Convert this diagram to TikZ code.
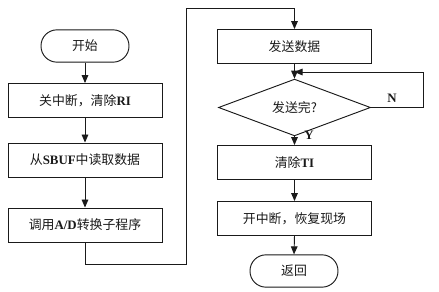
\documentclass[tikz,border=0pt]{standalone}
\usepackage{fontspec}
\setmainfont{Liberation Serif}
\newfontfamily\cjk{Noto Sans CJK SC}
\usetikzlibrary{arrows.meta,shapes.geometric}
\definecolor{paper}{HTML}{FFFFFF}
\definecolor{ink}{HTML}{1A1A1A}
\newcommand{\Lat}[1]{\textrm{\bfseries #1}}
\newcommand{\LeftX}{85}
\newcommand{\RightX}{294.5}
\newcommand{\BoxW}{4.62}
\newcommand{\BoxH}{1.02}

\begin{document}
\begin{tikzpicture}[
    x=0.03cm, y=-0.03cm,
    font=\cjk\fontsize{11}{13}\selectfont, ink,
    edge/.style={-{Triangle[length=2.4mm, width=2mm]}, line width=0.8pt, draw=ink},
    stepbox/.style={draw=ink, line width=0.8pt, fill=paper, minimum width=\BoxW cm, minimum height=\BoxH cm, inner sep=2pt},
    term/.style={draw=ink, line width=0.8pt, fill=paper, rounded corners=0.48cm, minimum width=2.64cm, minimum height=0.97cm, inner sep=2pt},
    test/.style={draw=ink, line width=0.8pt, fill=paper, diamond, minimum width=4.56cm, minimum height=0.93cm, inner sep=0pt},
    tag/.style={font=\rmfamily\bfseries\fontsize{11}{13}\selectfont},
  ]

\useasboundingbox[fill=paper] (0,0) rectangle (439,292);

% --- The receiving side ---------------------------------------------------------
\node[term] (start) at (\LeftX, 46) {开始};
\node[stepbox] (close) at (\LeftX, 100.5) {关中断，清除\Lat{RI}};
\node[stepbox] (read) at (\LeftX, 160) {从\Lat{SBUF}中读取数据};
\node[stepbox] (conv) at (\LeftX, 225) {调用\Lat{A/D}转换子程序};

\draw[edge] (start.south) -- (close.north);
\draw[edge] (close.south) -- (read.north);
\draw[edge] (read.south) -- (conv.north);

% --- Over to the sending side -----------------------------------------------------
\coordinate (low) at (186, 264);
\coordinate (high) at (186, 8);
\node[stepbox] (send) at (\RightX, 46.5) {发送数据};
\draw[edge] (conv.south) -- (conv.south |- low) -| (high) -| (send.north);

% --- Wait until sent ----------------------------------------------------------------
\node[test] (done) at (\RightX, 107.5) {发送完?};
\coordinate (back) at (423, 72);
\draw[edge] (send.south) -- (done.north);
\draw[edge] (done.east) -| (back) -- (back -| send.south);
\node[tag] (no) at (392, 98) {N};

% --- Finish -------------------------------------------------------------------------
\node[stepbox] (clear) at (\RightX, 162.5) {清除\Lat{TI}};
\node[stepbox] (open) at (\RightX, 218.5) {开中断，恢复现场};
\node[term] (ret) at (294, 271) {返回};
\node[tag] (yes) at (309, 135) {Y};

\draw[edge] (done.south) -- (clear.north);
\draw[edge] (clear.south) -- (open.north);
\draw[edge] (open.south) -- (ret.north);

\end{tikzpicture}
\end{document}
